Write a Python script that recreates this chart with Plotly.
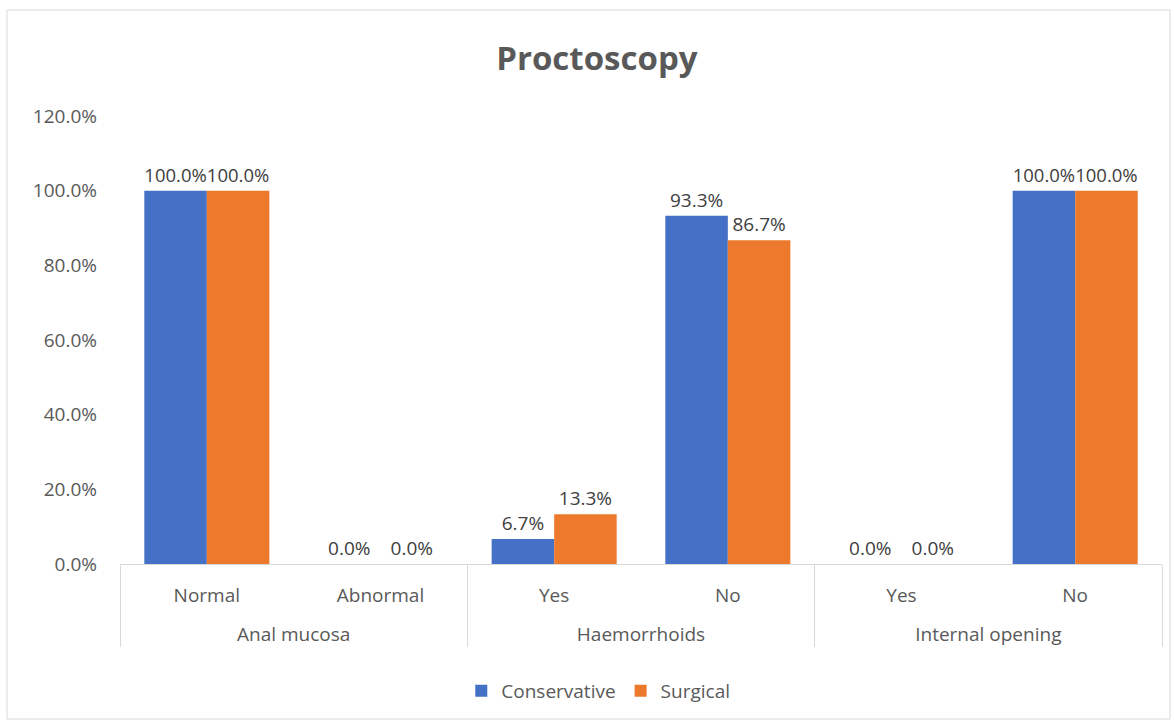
import plotly.graph_objects as go

# Proctoscopy findings by treatment group (percent of patients)
groups = ["Anal mucosa", "Anal mucosa", "Haemorrhoids", "Haemorrhoids",
          "Internal opening", "Internal opening"]
findings = ["Normal", "Abnormal", "Yes", "No", "Yes", "No"]
conservative = [100.0, 0.0, 6.7, 93.3, 0.0, 100.0]
surgical = [100.0, 0.0, 13.3, 86.7, 0.0, 100.0]

# leading blank line drops the group row a little further below the findings row
group_labels = ["<br>" + g for g in groups]

W, H = 1175, 725
L, R, T, B = 120, 13, 116, 161
FONT = "'Open Sans', Lato, sans-serif"
GREY = "#595959"
LABEL = "#404040"

fig = go.Figure()
fig.add_trace(go.Bar(
    name="Conservative", x=[group_labels, findings], y=conservative,
    marker=dict(color="#4471c6", line=dict(width=0)),
    texttemplate="%{y:.1f}%", textposition="outside",
    textfont=dict(size=19, color=LABEL, family=FONT), cliponaxis=False,
))
fig.add_trace(go.Bar(
    name="Surgical", x=[group_labels, findings], y=surgical,
    marker=dict(color="#ed7a2c", line=dict(width=0)),
    texttemplate="%{y:.1f}%", textposition="outside",
    textfont=dict(size=19, color=LABEL, family=FONT), cliponaxis=False,
))

ph = H - T - B
pw = W - L - R
fig.update_layout(
    width=W, height=H,
    margin=dict(l=L, r=R, t=T, b=B),
    paper_bgcolor="white", plot_bgcolor="white",
    font=dict(family=FONT, color=GREY, size=19),
    barmode="group", bargap=0.28, bargroupgap=0,
    title=dict(text="<b>Proctoscopy</b>", x=0.508, xanchor="center",
               y=1 - 58 / H, yanchor="middle",
               font=dict(size=33, color=GREY, family=FONT)),
    showlegend=True,
    legend=dict(orientation="h", x=0.459, xanchor="center",
                y=(564 - 691) / ph, yanchor="middle",
                font=dict(size=19, color=GREY, family=FONT),
                itemwidth=30, traceorder="normal"),
    shapes=[dict(type="rect", xref="paper", yref="paper",
                 x0=(7 - L) / pw, x1=(1170 - L) / pw,
                 y0=(564 - 719) / ph, y1=(564 - 10) / ph,
                 line=dict(color="#d9d9d9", width=1), fillcolor="rgba(0,0,0,0)",
                 layer="below")],
)
fig.update_yaxes(range=[0, 120], dtick=20, tickformat=".1f", ticksuffix="%",
                 showgrid=False, zeroline=False, showline=False,
                 ticklabelstandoff=22, tickfont=dict(size=19, color=GREY))
fig.update_xaxes(showline=True, linecolor="#d9d9d9", linewidth=1,
                 showdividers=True, dividercolor="#d9d9d9", dividerwidth=1,
                 ticklabelstandoff=14,
                 tickfont=dict(size=19, color=GREY), showgrid=False)

fig.write_html("out.html")
